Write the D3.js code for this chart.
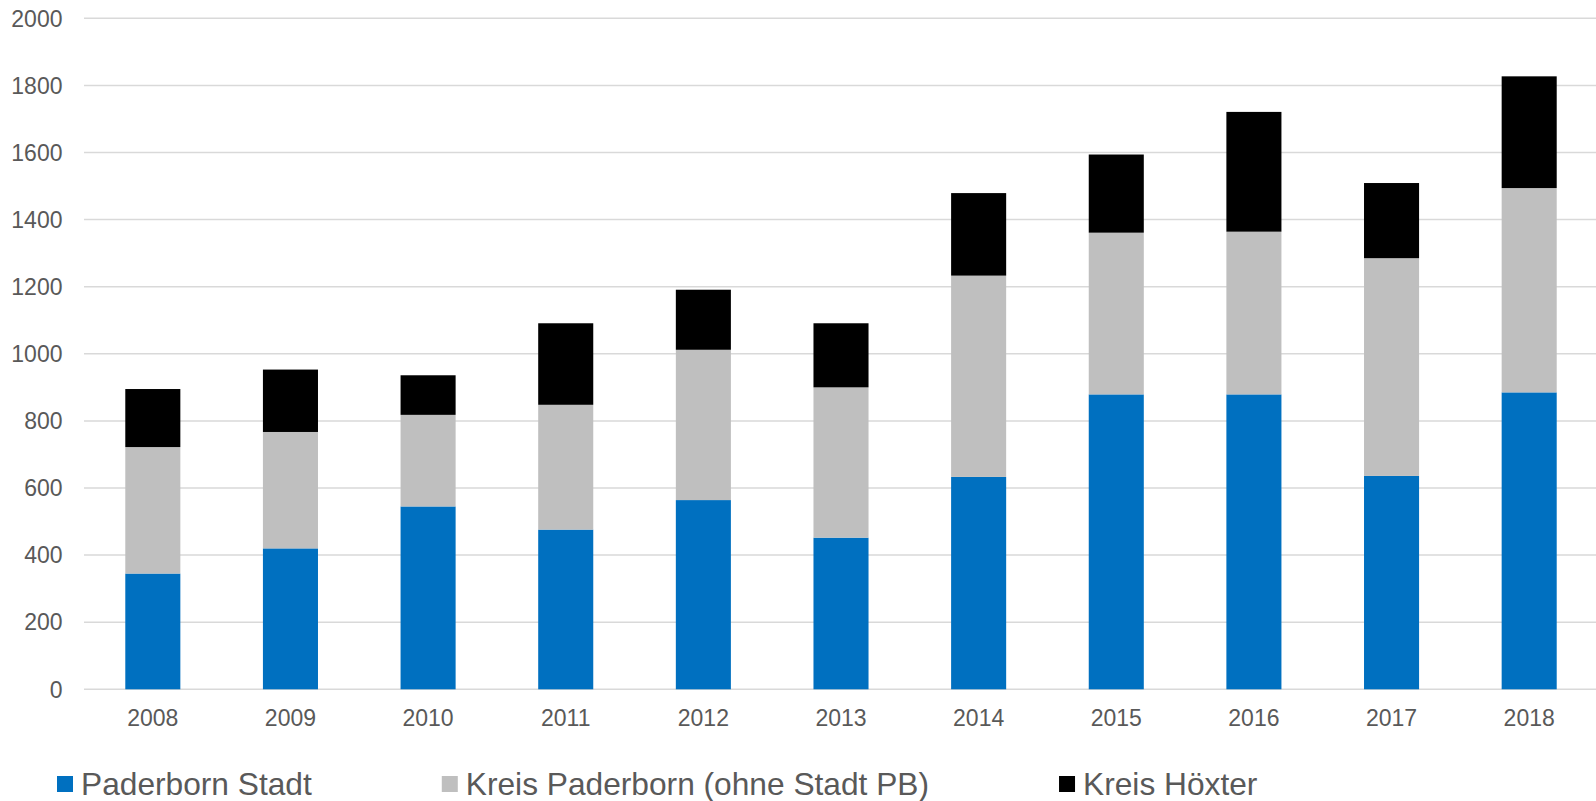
<!DOCTYPE html>
<html>
<head>
<meta charset="utf-8">
<script src="https://cdn.jsdelivr.net/npm/d3@7"></script>
<style>
  html, body { margin: 0; padding: 0; background: #ffffff; }
  svg { display: block; font-family: "Liberation Sans", Arial, sans-serif; }
</style>
</head>
<body>
<svg id="chart" width="1596" height="801"></svg>
<script>
// Jahre und Werte je Region (gestapelt)
const years = ["2008", "2009", "2010", "2011", "2012", "2013", "2014", "2015", "2016", "2017", "2018"];
const paderbornStadt = [345, 420, 545, 476, 564, 452, 633, 879, 879, 636, 885];
const kreisPaderborn = [377, 347, 273, 372, 448, 448, 600, 482, 485, 649, 609];
const kreisHoexter   = [173, 186, 118, 243, 179, 191, 246, 233, 357, 224, 333];

const seriesNames  = ["Paderborn Stadt", "Kreis Paderborn (ohne Stadt PB)", "Kreis Höxter"];
const seriesColors = ["#0070C0", "#BFBFBF", "#000000"];
const yTicks = [0, 200, 400, 600, 800, 1000, 1200, 1400, 1600, 1800, 2000];

const svg = d3.select("#chart");

const rows = years.map((y, i) => ({
  year: y,
  s0: paderbornStadt[i],
  s1: kreisPaderborn[i],
  s2: kreisHoexter[i]
}));
const stacked = d3.stack().keys(["s0", "s1", "s2"])(rows);

const x = d3.scaleBand().domain(years).range([84, 1598]).paddingInner(0.6).paddingOuter(0.3);
const y = d3.scaleLinear().domain([0, 2000]).range([689.3, 18.3]);

// Gitternetzlinien
svg.append("g")
  .selectAll("line")
  .data(yTicks)
  .join("line")
  .attr("x1", 84)
  .attr("x2", 1596)
  .attr("y1", d => y(d))
  .attr("y2", d => y(d))
  .attr("stroke", "#D9D9D9")
  .attr("stroke-width", 1.5);

// y-Achsenbeschriftung
svg.append("g")
  .selectAll("text")
  .data(yTicks)
  .join("text")
  .attr("x", 62.5)
  .attr("y", d => y(d))
  .attr("dy", "0.36em")
  .attr("text-anchor", "end")
  .attr("font-size", 23)
  .attr("fill", "#595959")
  .text(d => d);

// gestapelte Säulen
svg.append("g")
  .selectAll("g")
  .data(stacked)
  .join("g")
  .attr("fill", (d, i) => seriesColors[i])
  .selectAll("rect")
  .data(d => d)
  .join("rect")
  .attr("x", d => x(d.data.year))
  .attr("width", x.bandwidth())
  .attr("y", d => y(d[1]))
  .attr("height", d => y(d[0]) - y(d[1]));

// x-Achsenbeschriftung
svg.append("g")
  .selectAll("text")
  .data(years)
  .join("text")
  .attr("x", d => x(d) + x.bandwidth() / 2)
  .attr("y", 726)
  .attr("text-anchor", "middle")
  .attr("font-size", 23)
  .attr("fill", "#595959")
  .text(d => d);

// Legende
const legend = svg.append("g");
let lx = 57;
seriesNames.forEach((name, i) => {
  legend.append("rect")
    .attr("x", lx)
    .attr("y", 776)
    .attr("width", 16)
    .attr("height", 16)
    .attr("fill", seriesColors[i]);
  const t = legend.append("text")
    .attr("x", lx + 24)
    .attr("y", 795)
    .attr("font-size", 31.7)
    .attr("fill", "#595959")
    .text(name);
  lx += 24 + t.node().getComputedTextLength() + 130;
});
</script>
</body>
</html>
